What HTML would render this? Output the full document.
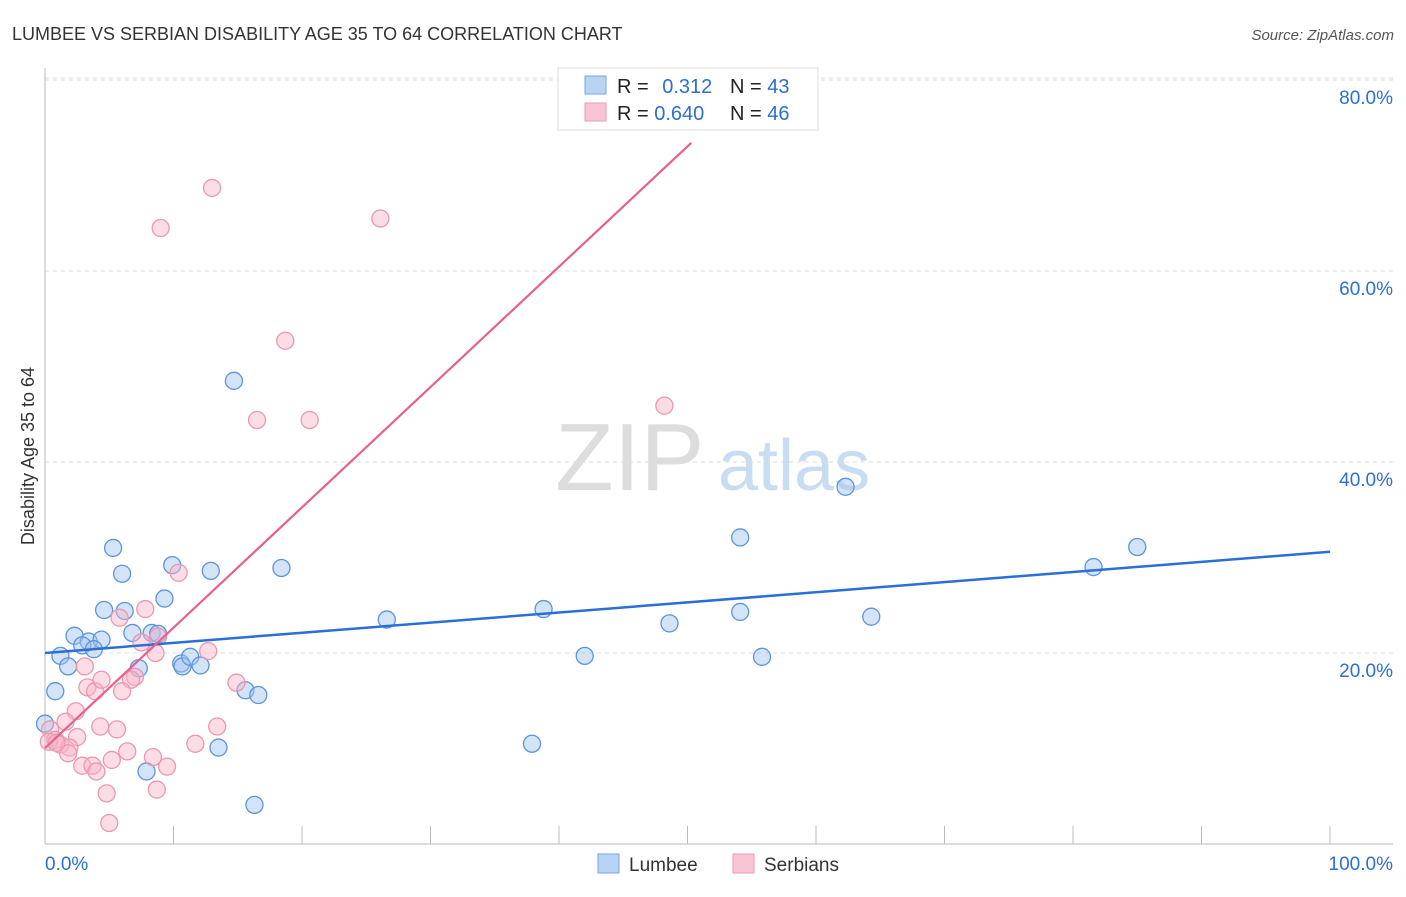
<!DOCTYPE html>
<html><head><meta charset="utf-8"><style>
body{margin:0;background:#fff;font-family:"Liberation Sans",sans-serif;}
svg text{font-family:"Liberation Sans",sans-serif;}
</style></head><body>
<svg width="1406" height="892" xmlns="http://www.w3.org/2000/svg">
<text x="12" y="40" font-size="18" fill="#333">LUMBEE VS SERBIAN DISABILITY AGE 35 TO 64 CORRELATION CHART</text>
<text x="1394" y="40" font-size="15" fill="#555" font-style="italic" text-anchor="end">Source: ZipAtlas.com</text>
<g id="grid"></g>
<g id="axes"></g>
<text x="555" y="490" font-size="96" fill="#ddd" font-family="Liberation Serif">ZIP</text>
<text x="718" y="490" font-size="72" fill="#c8dcf2">atlas</text>
<g id="marks"></g>
<text x="34" y="456" font-size="18" fill="#333" text-anchor="middle" transform="rotate(-90 34 456)">Disability Age 35 to 64</text>
<g>
<rect x="558" y="68" width="260" height="62" fill="#fff" stroke="#ddd"/>
<rect x="585" y="76" width="21" height="18" fill="#b9d3f5" stroke="#7aa6e0"/>
<rect x="585" y="103" width="21" height="18" fill="#f9c4d3" stroke="#ec9ab3"/>
<text x="617" y="93" font-size="20" fill="#222">R = <tspan fill="#2b6fd1" dx="8">0.312</tspan></text>
<text x="730" y="93" font-size="20" fill="#222">N = <tspan fill="#2b6fd1">43</tspan></text>
<text x="617" y="120" font-size="20" fill="#222">R = <tspan fill="#2b6fd1">0.640</tspan></text>
<text x="730" y="120" font-size="20" fill="#222">N = <tspan fill="#2b6fd1">46</tspan></text>
</g>
<g>
<rect x="598" y="854" width="21" height="19" fill="#b9d3f5" stroke="#7aa6e0"/>
<text x="629" y="871" font-size="19" fill="#333">Lumbee</text>
<rect x="733" y="854" width="21" height="19" fill="#f9c4d3" stroke="#ec9ab3"/>
<text x="764" y="871" font-size="19" fill="#333">Serbians</text>
</g>
</svg>
<script>
const lumbeeX=[14.7,5.3,6.0,9.9,12.9,18.4,9.3,4.6,6.2,2.3,3.4,4.4,2.9,3.8,6.8,8.3,8.8,1.2,1.8,0.8,7.3,10.6,10.7,11.3,12.1,15.6,16.6,7.9,13.5,16.3,0.0,26.6,38.8,42.0,37.9,48.6,54.1,54.1,55.8,62.3,64.3,81.6,85.0];
const lumbeeY=[48.5,31.0,28.3,29.2,28.6,28.9,25.7,24.5,24.4,21.8,21.2,21.4,20.8,20.4,22.1,22.1,22.0,19.7,18.6,16.0,18.4,18.9,18.6,19.6,18.7,16.1,15.6,7.6,10.1,4.1,12.6,23.5,24.6,19.7,10.5,23.1,32.1,24.3,19.6,37.4,23.8,29.0,31.1];
const serbX=[13.0,9.0,26.1,18.7,16.5,20.6,48.2,10.4,7.8,5.8,7.5,8.6,8.8,12.7,3.1,7.0,6.7,3.3,3.9,4.4,6.0,14.9,2.4,1.6,13.4,4.3,5.6,2.5,0.4,0.8,1.2,0.3,1.9,0.9,6.4,8.4,11.7,1.8,2.9,3.7,4.0,9.5,5.2,4.8,8.7,5.0];
const serbY=[68.7,64.5,65.5,52.7,44.4,44.4,45.9,28.4,24.6,23.7,21.1,20.0,21.7,20.2,18.6,17.5,17.2,16.4,16.0,17.2,16.0,16.9,13.9,12.8,12.3,12.3,12.0,11.2,12.0,10.9,10.4,10.7,10.1,10.6,9.7,9.1,10.5,9.5,8.2,8.2,7.6,8.1,8.8,5.3,5.7,2.2];
const xTicks=[0,10,20,30,40,50,60,70,80,90,100];
const yTicks=[20,40,60,80];
const yTickLabels=["20.0%","40.0%","60.0%","80.0%"];
const lumbeeTrend=[20.0,30.6];
const serbTrend=[10.05,1.26];
const X=v=>45+v*12.85, Y=v=>844-v*9.55;
const NS="http://www.w3.org/2000/svg";
function mk(t,a,p){const e=document.createElementNS(NS,t);for(const k in a)e.setAttribute(k,a[k]);p.appendChild(e);return e;}
const grid=document.getElementById('grid'),axes=document.getElementById('axes'),marks=document.getElementById('marks');
yTicks.forEach((t,i)=>{
 const l=mk('line',{x1:45,x2:1393,y1:Y(t),y2:Y(t),stroke:'#ddd','stroke-dasharray':'4,4'},grid);
 
 
 const tx=mk('text',{x:1393,y:Y(t)+24,'font-size':19,fill:'#2b6fd1','text-anchor':'end'},axes);
 tx.textContent=yTickLabels[i];
 
 
});
const tl=mk('line',{x1:45,x2:1393,y1:Y(80)-2,y2:Y(80)-2,stroke:'#ddd','stroke-dasharray':'4,4'},grid);


const ya=mk('line',{x1:45,x2:45,y1:68,y2:844,stroke:'#bbb'},axes);


const xa=mk('line',{x1:45,x2:1393,y1:844,y2:844,stroke:'#bbb'},axes);


xTicks.forEach(t=>{
 const l=mk('line',{x1:X(t),x2:X(t),y1:826,y2:844,stroke:'#bbb'},axes);
 
 
});
const x0=mk('text',{x:45,y:870,'font-size':19,fill:'#2b6fd1'},axes);x0.textContent='0.0%';


const x1=mk('text',{x:1393,y:870,'font-size':19,fill:'#2b6fd1','text-anchor':'end'},axes);x1.textContent='100.0%';


lumbeeX.forEach((v,i)=>{
 const c=mk('circle',{cx:X(v),cy:Y(lumbeeY[i]),r:8.5,fill:'rgba(160,196,240,0.45)',stroke:'#5d94dc','stroke-width':1.3},marks);
 
 
});
serbX.forEach((v,i)=>{
 const c=mk('circle',{cx:X(v),cy:Y(serbY[i]),r:8.5,fill:'rgba(248,180,200,0.45)',stroke:'#ec97b0','stroke-width':1.3},marks);
 
 
});
const bl=mk('line',{x1:X(0),y1:Y(lumbeeTrend[0]),x2:X(100),y2:Y(lumbeeTrend[1]),stroke:'#2a6fd6','stroke-width':2.5},marks);


const xe=50.3;
const pl=mk('line',{x1:X(0),y1:Y(serbTrend[0]),x2:X(xe),y2:Y(serbTrend[0]+serbTrend[1]*xe),stroke:'#e8608c','stroke-width':2.2},marks);


</script>
</body></html>
